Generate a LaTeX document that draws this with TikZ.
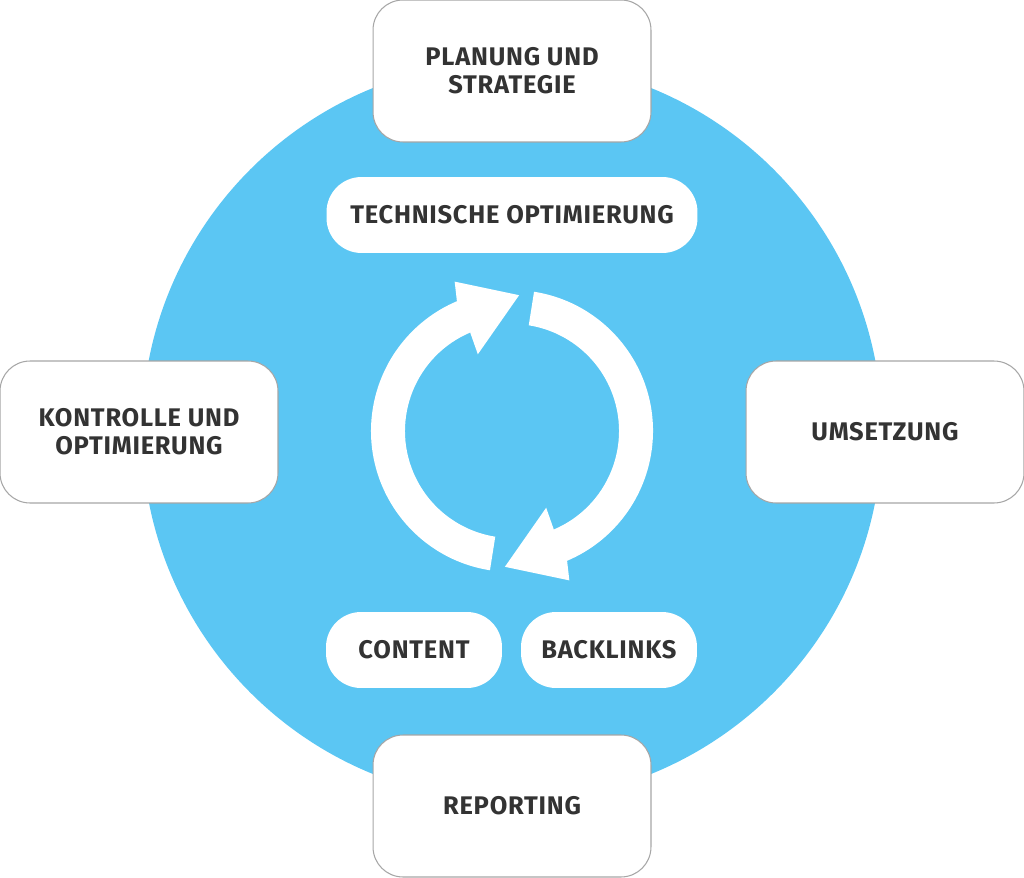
\documentclass[tikz,border=0pt]{standalone}
\usepackage{fontspec}
\setmainfont{Fira Sans}[LetterSpace=3]
\definecolor{skyblue}{HTML}{5BC6F3}
\definecolor{textgray}{HTML}{333333}
\tikzset{
  phasebox/.style={draw=gray!70, fill=white, rounded corners=0.6cm, line width=0.6pt,
    minimum width=5.56cm, minimum height=2.84cm, align=center,
    text=textgray, font=\bfseries\fontsize{14.5}{16}\selectfont},
  pillbox/.style={fill=white, rounded corners=0.7cm, minimum height=1.52cm,
    align=center, text=textgray, font=\bfseries\fontsize{14.5}{16}\selectfont}
}
\begin{document}
\begin{tikzpicture}[x=0.02cm,y=0.02cm]
  \useasboundingbox (0,0) rectangle (1024,877);
  % background disc
  \fill[skyblue] (512,446) circle (370);

  % outer phases
  \node[phasebox] (plan) at (512,806) {PLANUNG UND\\STRATEGIE};
  \node[phasebox] (ctrl) at (139,445) {KONTROLLE UND\\OPTIMIERUNG};
  \node[phasebox] (umse) at (885,445) {UMSETZUNG};
  \node[phasebox] (repo) at (512,71) {REPORTING};

  % inner topics
  \node[pillbox, minimum width=7.42cm] (tech) at (512,662) {TECHNISCHE OPTIMIERUNG};
  \node[pillbox, minimum width=3.52cm] (cont) at (414,227) {CONTENT};
  \node[pillbox, minimum width=3.52cm] (back) at (609,227) {BACKLINKS};

  % cycle arrows
  \foreach \r in {0,180} {
    \fill[white, shift={(512,446)}, rotate=\r]
      (261:141) arc[start angle=261, end angle=113, radius=141]
      -- (111:160) -- (87:136) -- (114:84) -- (113:107)
      arc[start angle=113, end angle=261, radius=107] -- cycle;
  }
\end{tikzpicture}
\end{document}
